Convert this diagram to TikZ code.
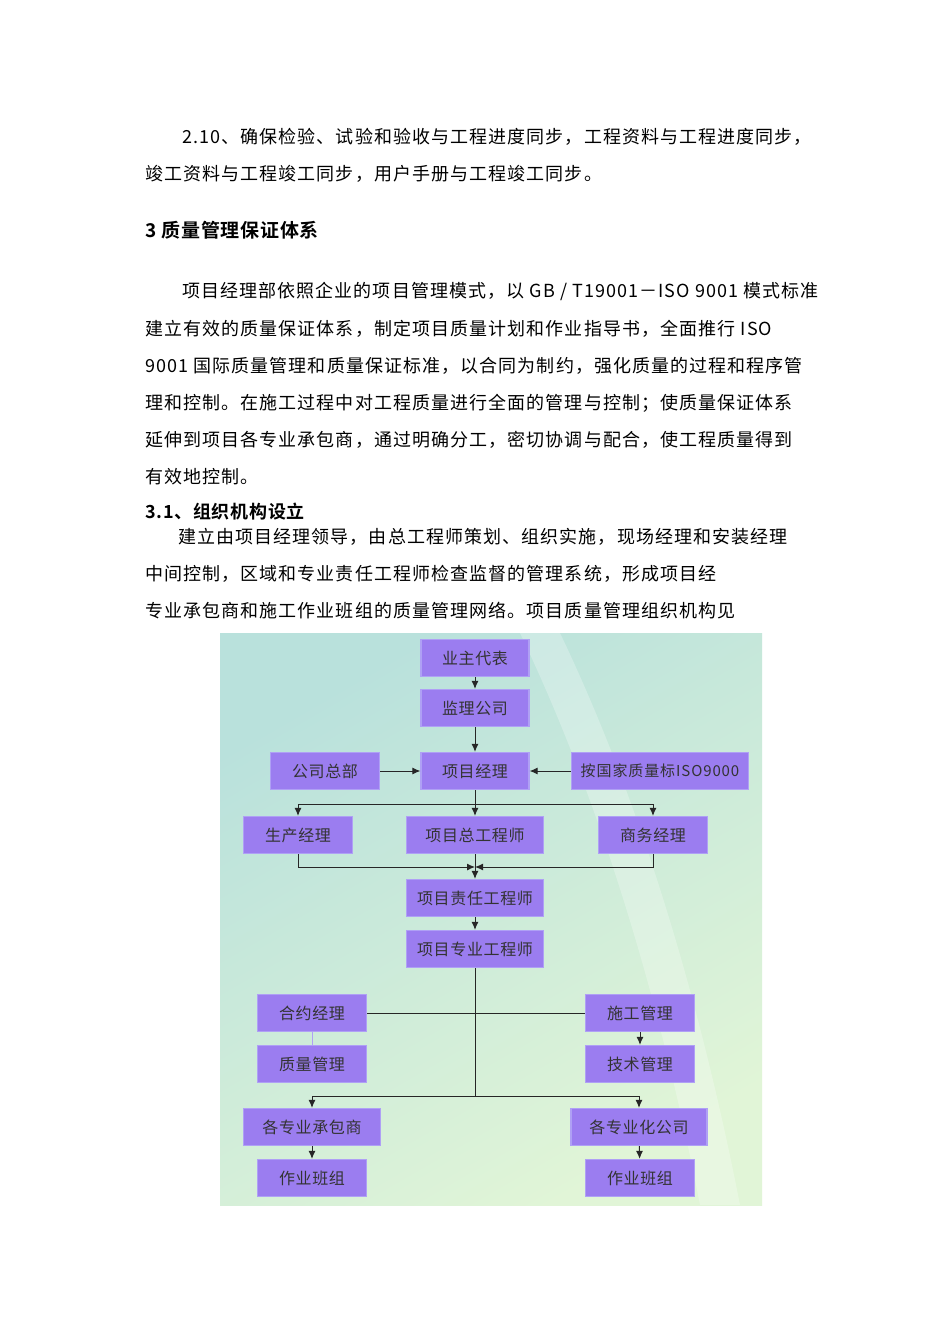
\documentclass[tikz,border=0pt]{standalone}
\usepackage{fontspec}
\setmainfont{Liberation Serif}
\newfontfamily\cjk{Noto Sans CJK SC}[LetterSpace=6]
\newfontfamily\cjkbox{Noto Sans CJK SC}[LetterSpace=4]
\newfontfamily\cjkb{Noto Sans CJK SC}[BoldFont={* Bold},LetterSpace=4]
\usetikzlibrary{arrows.meta}
\definecolor{boxfill}{RGB}{155,125,240}
\definecolor{boxedge}{RGB}{175,160,245}
\definecolor{bgA}{RGB}{185,225,220}
\definecolor{bgB}{RGB}{225,245,215}
\tikzset{
  x=1pt,y=-1pt,
  body/.style={anchor=west,inner sep=0,font=\fontsize{18}{18}\selectfont\cjk},
  orgbox/.style={draw=boxedge,line width=1.2pt,fill=boxfill,inner sep=0,font=\fontsize{16}{16}\selectfont\cjkbox\color{black!80}},
  conn/.style={draw=black!85,line width=1pt},
  arr/.style={conn,-{Latex[length=8pt,width=7pt]}}
}
\begin{document}
\begin{tikzpicture}
\useasboundingbox (0,0) rectangle (950,1344);
\fill[white] (0,0) rectangle (950,1344);
% text
\node[body] (t1) at (182,137) {2.10、确保检验、试验和验收与工程进度同步，工程资料与工程进度同步，};
\node[body] (t2) at (145,174) {竣工资料与工程竣工同步，用户手册与工程竣工同步。};
\node[body,font=\fontsize{19}{19}\selectfont\cjkb\bfseries] (h1) at (145,230) {3 质量管理保证体系};
\node[body] (p1) at (182,291) {项目经理部依照企业的项目管理模式，以 GB / T19001－ISO 9001 模式标准};
\node[body] (p2) at (145,329) {建立有效的质量保证体系，制定项目质量计划和作业指导书，全面推行 ISO};
\node[body] (p3) at (145,366) {9001 国际质量管理和质量保证标准，以合同为制约，强化质量的过程和程序管};
\node[body] (p4) at (145,403) {理和控制。在施工过程中对工程质量进行全面的管理与控制；使质量保证体系};
\node[body] (p5) at (145,440) {延伸到项目各专业承包商，通过明确分工，密切协调与配合，使工程质量得到};
\node[body] (p6) at (145,477) {有效地控制。};
\node[body,font=\fontsize{18}{18}\selectfont\cjkb\bfseries] (h2) at (145,512) {3.1、组织机构设立};
\node[body] (q1) at (178,537) {建立由项目经理领导，由总工程师策划、组织实施，现场经理和安装经理};
\node[body] (q2) at (145,574) {中间控制，区域和专业责任工程师检查监督的管理系统，形成项目经};
\node[body] (q3) at (145,611) {专业承包商和施工作业班组的质量管理网络。项目质量管理组织机构见};
% background
\shade[left color=bgA,right color=bgB,shading angle=30] (220,633) rectangle (762,1205);
\fill[white,opacity=0.25] (560,633) .. controls (640,800) and (700,1000) .. (740,1205) -- (700,1205) .. controls (660,1000) and (600,800) .. (520,633) -- cycle;
% boxes
\node[orgbox,minimum width=108,minimum height=37] (a) at (475,658) {业主代表};
\node[orgbox,minimum width=108,minimum height=37] (b) at (475,708) {监理公司};
\node[orgbox,minimum width=109,minimum height=37] (c) at (325,771) {公司总部};
\node[orgbox,minimum width=108,minimum height=37] (d) at (475,771) {项目经理};
\node[orgbox,minimum width=177,minimum height=37,font=\fontsize{15}{15}\selectfont\cjk\color{black!80}] (e) at (660,771) {按国家质量标ISO9000};
\node[orgbox,minimum width=109,minimum height=37] (f) at (298,835) {生产经理};
\node[orgbox,minimum width=137,minimum height=37] (g) at (475,835) {项目总工程师};
\node[orgbox,minimum width=109,minimum height=37] (h) at (653,835) {商务经理};
\node[orgbox,minimum width=137,minimum height=37] (i) at (475,898) {项目责任工程师};
\node[orgbox,minimum width=137,minimum height=37] (j) at (475,949) {项目专业工程师};
\node[orgbox,minimum width=109,minimum height=37] (k) at (312,1013) {合约经理};
\node[orgbox,minimum width=109,minimum height=37] (l) at (312,1064) {质量管理};
\node[orgbox,minimum width=109,minimum height=37] (m) at (640,1013) {施工管理};
\node[orgbox,minimum width=109,minimum height=37] (n) at (640,1064) {技术管理};
\node[orgbox,minimum width=137,minimum height=37] (o) at (312,1127) {各专业承包商};
\node[orgbox,minimum width=136,minimum height=37] (p) at (639,1127) {各专业化公司};
\node[orgbox,minimum width=109,minimum height=37] (r) at (312,1178) {作业班组};
\node[orgbox,minimum width=109,minimum height=37] (s) at (640,1178) {作业班组};
% connectors
\draw[arr] (a) -- (b);
\draw[arr] (b) -- (d);
\draw[arr] (c) -- (d);
\draw[arr] (e) -- (d);
\coordinate (sp) at (475,804);
\draw[arr] (d) -- (g);
\draw[arr] (sp) -| (f.north);
\draw[arr] (sp) -| (h.north);
\coordinate (mg) at (475,867);
\draw[conn] (g) -- (mg);
\draw[arr] (f.south) |- (mg);
\draw[arr] (h.south) |- (mg);
\draw[arr] (mg) -- (i);
\draw[arr] (i) -- (j);
\draw[conn] (k) -- (m);
\draw[draw=boxedge,line width=0.8pt] (k) -- (l);
\draw[arr] (m) -- (n);
\coordinate (sp2) at (475,1096);
\draw[conn] (j) -- (sp2);
\draw[arr] (sp2) -| (o.north);
\draw[arr] (sp2) -| (p.north);
\draw[arr] (o) -- (r);
\draw[arr] (p) -- (s);
\end{tikzpicture}
\end{document}
